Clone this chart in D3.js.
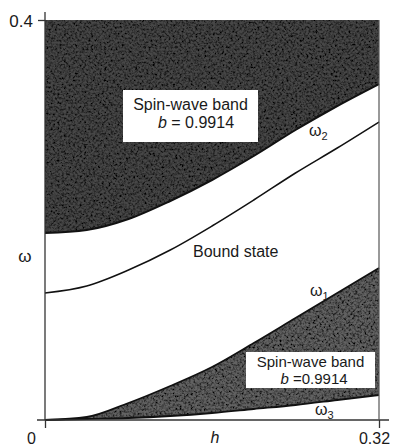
<!DOCTYPE html>
<html>
<head>
<meta charset="utf-8">
<script src="https://cdn.jsdelivr.net/npm/d3@7"></script>
<style>
  body { margin: 0; background: #fff; }
  svg text { font-family: "Liberation Sans", Arial, sans-serif; fill: #1a1a1a; }
  .tick text { font-family: "Liberation Sans Narrow", "Liberation Sans", sans-serif; }
</style>
</head>
<body>
<svg id="chart"></svg>
<script>
// h values along the field axis
const hVals = [0, 0.04, 0.08, 0.12, 0.16, 0.20, 0.24, 0.28, 0.32];
// upper spin-wave band edge (omega2)
const omega2 = [0.187, 0.190, 0.201, 0.219, 0.240, 0.264, 0.290, 0.314, 0.336];
// bound state
const boundState = [0.127, 0.134, 0.150, 0.170, 0.194, 0.220, 0.247, 0.272, 0.298];
// lower spin-wave band, top (omega1) and bottom (omega3)
const omega1 = [0, 0.003, 0.017, 0.034, 0.053, 0.077, 0.102, 0.127, 0.152];
const omega3 = [0, 0.001, 0.002, 0.004, 0.007, 0.011, 0.015, 0.020, 0.025];
const xTicks = [0, 0.32];
const yTicks = [0.4];

const width = 395, height = 448;
const svg = d3.select('#chart').attr('width', width).attr('height', height);

const x = d3.scaleLinear().domain([0, 0.32]).range([45, 379]);
const y = d3.scaleLinear().domain([0, 0.4]).range([420, 20]);

// grainy shading like the printed figure
const defs = svg.append('defs');
const f = defs.append('filter').attr('id', 'grain');
f.append('feTurbulence').attr('type', 'fractalNoise').attr('baseFrequency', 0.45)
  .attr('numOctaves', 3).attr('seed', 7).attr('result', 'n');
f.append('feColorMatrix').attr('in', 'n').attr('type', 'matrix')
  .attr('values', '0 0 0 0 0  0 0 0 0 0  0 0 0 0 0  2.4 0 0 0 -0.9').attr('result', 'a');
f.append('feComposite').attr('in', 'a').attr('in2', 'SourceGraphic').attr('operator', 'in').attr('result', 'm');
const fm = f.append('feMerge');
fm.append('feMergeNode').attr('in', 'SourceGraphic');
fm.append('feMergeNode').attr('in', 'm');

const pts = vals => hVals.map((h, i) => ({h: h, v: vals[i]}));

// upper band
const upper = hVals.map((h, i) => ({h: h, lo: omega2[i]}));
svg.append('path')
  .datum(upper)
  .attr('d', d3.area().curve(d3.curveMonotoneX)
    .x(d => x(d.h)).y0(y(0.4)).y1(d => y(d.lo)))
  .attr('fill', '#474747')
  .attr('filter', 'url(#grain)');

// lower band
const lower = hVals.map((h, i) => ({h: h, lo: omega3[i], hi: omega1[i]}));
svg.append('path')
  .datum(lower)
  .attr('d', d3.area().curve(d3.curveMonotoneX)
    .x(d => x(d.h)).y0(d => y(d.lo)).y1(d => y(d.hi)))
  .attr('fill', '#626262')
  .attr('filter', 'url(#grain)');

const line = d3.line().curve(d3.curveMonotoneX).x(d => x(d.h)).y(d => y(d.v));
[[omega2, 2], [boundState, 1.5], [omega1, 1.8], [omega3, 1.8]].forEach(([vals, w]) => {
  svg.append('path').datum(pts(vals)).attr('d', line)
    .attr('fill', 'none').attr('stroke', '#111').attr('stroke-width', w);
});

// axes
const xAxis = svg.append('g')
  .attr('transform', 'translate(0,' + y(0) + ')')
  .call(d3.axisBottom(x).tickValues(xTicks).tickSize(8).tickFormat(d => d === 0 ? '0' : d3.format('.2f')(d)));
xAxis.select('.domain').remove();
xAxis.selectAll('.tick line').attr('stroke', '#333').attr('stroke-width', 1.3);
xAxis.selectAll('.tick text')
  .attr('font-size', 16).attr('y', 24).attr('dy', 0)
  .attr('dx', d => d === 0 ? -14 : -5);

const yAxis = svg.append('g')
  .attr('transform', 'translate(' + x(0) + ',0)')
  .call(d3.axisLeft(y).tickValues(yTicks).tickSize(7).tickPadding(5).tickFormat(d3.format('.1f')));
yAxis.select('.domain').remove();
yAxis.selectAll('.tick line').attr('stroke', '#333').attr('stroke-width', 1.3);
yAxis.selectAll('.tick text').attr('font-size', 17).attr('dy', '0.36em');

svg.append('line').attr('x1', x(0)).attr('x2', x(0)).attr('y1', y(0)).attr('y2', y(0.4) - 8)
  .attr('stroke', '#333').attr('stroke-width', 1.3);
svg.append('line').attr('x1', x(0) - 8).attr('x2', x(0.32) + 10).attr('y1', y(0)).attr('y2', y(0))
  .attr('stroke', '#333').attr('stroke-width', 1.3);
svg.append('line').attr('x1', x(0.32)).attr('x2', x(0.32)).attr('y1', y(0.4)).attr('y2', y(0))
  .attr('stroke', '#555').attr('stroke-width', 1.2);

svg.append('text').attr('x', 215).attr('y', 443).attr('text-anchor', 'middle')
  .attr('font-size', 16).attr('font-style', 'italic').text('h');
svg.append('text').attr('x', 25).attr('y', 262).attr('text-anchor', 'middle')
  .attr('font-size', 17).text('ω');

// band labels
function bandBox(x0, y0, w, h, line1Y, line2X, line2Y, size, gap) {
  svg.append('rect').attr('x', x0).attr('y', y0).attr('width', w).attr('height', h)
    .attr('fill', '#fff');
  svg.append('text').attr('x', x0 + w / 2).attr('y', line1Y).attr('text-anchor', 'middle')
    .attr('font-size', size).text('Spin-wave band');
  const t = svg.append('text').attr('x', line2X).attr('y', line2Y).attr('text-anchor', 'middle')
    .attr('font-size', size);
  t.append('tspan').attr('font-style', 'italic').text('b');
  t.append('tspan').text(gap + '0.9914');
}
bandBox(123, 90, 135, 52, 110, 196, 128, 16, ' = ');
bandBox(246, 352, 129, 36, 367, 314, 384, 15, ' =');

svg.append('text').attr('x', 193).attr('y', 257).attr('font-size', 16).text('Bound state');

function omegaLabel(xp, yp, sub) {
  const t = svg.append('text').attr('x', xp).attr('y', yp).attr('font-size', 16);
  t.append('tspan').text('ω');
  t.append('tspan').attr('font-size', 11).attr('dy', 4).text(sub);
}
omegaLabel(309, 136, '2');
omegaLabel(310, 296, '1');
omegaLabel(315, 415, '3');
</script>
</body>
</html>
